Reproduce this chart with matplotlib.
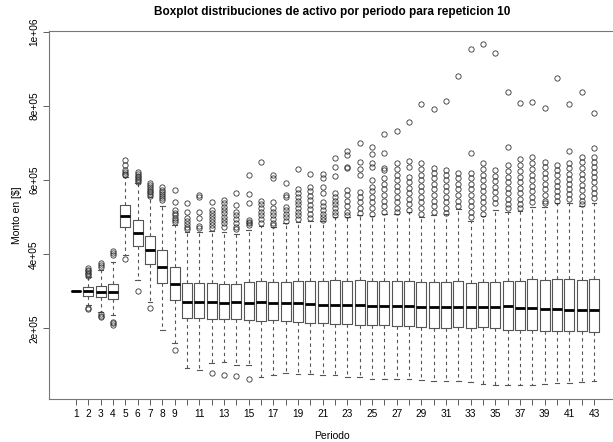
import matplotlib
matplotlib.use("Agg")
import matplotlib.pyplot as plt
import numpy as np

plt.rcParams['font.family'] = ['Liberation Sans', 'DejaVu Sans']

# valores en miles de $
periodos = list(range(1, 44))
q1 = [300, 288, 284, 279, 475, 422, 374, 323, 277, 227, 228, 226, 225, 225, 222, 221, 222, 221, 217, 216,
      215, 211, 213, 210, 210, 209, 208, 206, 205, 202, 200, 205, 200, 203, 200, 197, 197, 197, 193, 193,
      193, 194, 191]
mediana = [300, 300, 298, 298, 503, 457, 412, 365, 320, 271, 271, 271, 269, 271, 270, 271, 270, 268, 269, 267,
           263, 263, 264, 263, 261, 261, 261, 260, 259, 257, 259, 258, 257, 258, 259, 261, 254, 256, 253, 252,
           250, 251, 250]
q3 = [300, 311, 315, 319, 532, 493, 450, 412, 365, 322, 322, 324, 321, 321, 325, 329, 326, 326, 328, 328,
      328, 330, 328, 330, 327, 328, 329, 327, 325, 325, 325, 327, 323, 325, 325, 327, 329, 333, 332, 333,
      334, 330, 334]
bigote_inf = [300, 262, 245, 236, 398, 331, 272, 196, 160, 92, 88, 106, 109, 101, 101, 70, 74, 80, 77, 77,
              74, 74, 68, 68, 64, 65, 64, 64, 62, 59, 58, 59, 56, 51, 47, 48, 47, 47, 51, 53,
              53, 56, 58]
bigote_sup = [300, 340, 358, 380, 609, 592, 554, 531, 479, 460, 461, 463, 461, 455, 466, 476, 473, 485, 487, 490,
              490, 502, 501, 506, 503, 509, 509, 514, 500, 506, 509, 522, 491, 503, 520, 515, 518, 528, 528, 538,
              538, 530, 538]
atipicos = [
    [],
    [342, 346, 350, 354, 358, 362, 252, 256],
    [367, 372, 377, 230, 234, 238],
    [398, 404, 410, 210, 214, 218],
    [654, 640, 627, 622, 618, 614, 387],
    [596, 600, 604, 608, 612, 616, 621, 302],
    [557, 562, 567, 572, 577, 582, 587, 592, 256],
    [547, 552, 557, 562, 568, 574, 581],
    [574, 542, 520, 512, 505, 498, 492, 488, 142],
    [538, 515, 498, 490, 482, 475, 468],
    [560, 556, 513, 497, 477, 470],
    [541, 520, 511, 503, 495, 487, 479, 471, 79],
    [547, 538, 529, 520, 511, 502, 493, 484, 475, 74],
    [566, 533, 515, 505, 495, 485, 475, 468, 72],
    [614, 562, 538, 492, 488, 484, 480, 65],
    [648, 545, 535, 525, 515, 505, 495, 485],
    [614, 605, 542, 525, 515, 505, 495, 485, 478],
    [593, 560, 554, 529, 520, 510, 500, 490],
    [631, 575, 565, 555, 545, 535, 525, 515, 505, 495],
    [616, 583, 570, 558, 546, 534, 522, 510, 498],
    [616, 605, 581, 565, 540, 530, 520, 510, 500, 493],
    [661, 636, 611, 565, 555, 545, 535, 525, 515, 507],
    [680, 668, 636, 632, 574, 560, 545, 530, 515, 505],
    [701, 650, 630, 614, 569, 555, 540, 525, 512],
    [690, 670, 646, 636, 601, 583, 570, 555, 540, 525, 510],
    [725, 674, 632, 628, 605, 590, 575, 560, 545, 530, 515],
    [734, 646, 630, 615, 600, 585, 570, 555, 540, 525, 515],
    [756, 652, 636, 609, 595, 580, 565, 550, 535, 520],
    [805, 646, 630, 615, 600, 585, 570, 555, 540, 525, 510],
    [791, 632, 620, 605, 590, 575, 560, 545, 530, 515],
    [814, 628, 615, 600, 585, 570, 555, 540, 525, 512],
    [881, 619, 605, 590, 575, 560, 545, 530],
    [954, 673, 620, 605, 590, 575, 560, 545, 530, 515, 500],
    [967, 646, 630, 615, 600, 585, 570, 555, 540, 525, 510],
    [944, 628, 612, 597, 582, 567, 552, 538],
    [839, 690, 641, 625, 610, 595, 580, 565, 550, 535, 525],
    [809, 656, 640, 625, 610, 595, 580, 565, 550, 535, 525],
    [812, 663, 647, 631, 615, 600, 585, 570, 555, 540],
    [794, 650, 635, 620, 605, 590, 575, 560, 545, 538],
    [875, 641, 627, 613, 599, 585, 571, 557, 545],
    [806, 679, 646, 632, 618, 604, 590, 576, 562, 548],
    [838, 663, 648, 633, 618, 603, 588, 573, 558, 545, 535],
    [781, 686, 663, 650, 636, 622, 608, 594, 580, 566, 552],
]

stats = []
for i in range(len(periodos)):
    stats.append({
        "q1": q1[i] * 1000, "med": mediana[i] * 1000, "q3": q3[i] * 1000,
        "whislo": bigote_inf[i] * 1000, "whishi": bigote_sup[i] * 1000,
        "fliers": np.array(atipicos[i]) * 1000,
    })

fig = plt.figure(figsize=(6.13, 4.42), dpi=100)
ax = fig.add_axes([49/613, 1-399/442, (615-49)/613, (399-31)/442])

borde = "#555555"
ax.bxp(stats, positions=periodos, widths=0.8, patch_artist=False,
       boxprops=dict(color=borde, linewidth=0.8),
       medianprops=dict(color="black", linewidth=2),
       whiskerprops=dict(color=borde, linewidth=0.8, linestyle=(0, (3, 3))),
       capprops=dict(color=borde, linewidth=0.8),
       capwidths=0.4,
       flierprops=dict(marker="o", markersize=3.8, markerfacecolor="none",
                       markeredgecolor="#333333", markeredgewidth=0.6))

ax.set_xlim(-1.19, 44.7)
ax.set_ylim(9700, 1002600)

etiquetas = [str(p) if (p < 10 or p % 2 == 1) else "" for p in periodos]
ax.set_xticks(periodos)
ax.set_xticklabels(etiquetas, fontsize=7.3)
yt = [200000, 400000, 600000, 800000, 1000000]
ax.set_yticks(yt)
ax.set_yticklabels(["2e+05", "4e+05", "6e+05", "8e+05", "1e+06"], fontsize=7.3, rotation=90, va="center")
ax.tick_params(length=4, width=0.6, color="#444444", pad=3)

for lado in ["left", "top", "bottom", "right"]:
    ax.spines[lado].set_color("#777777")
    ax.spines[lado].set_linewidth(0.8)

ax.set_xlabel("Periodo", fontsize=7.5, labelpad=9)
ax.set_ylabel(r"Monto en [\$]", fontsize=7.5, labelpad=5)
fig.text(332/613, 1-12/442, "Boxplot distribuciones de activo por periodo para repeticion 10",
         ha="center", va="center", fontsize=8.5, fontweight="bold")

fig.savefig("out.png", dpi=100)
